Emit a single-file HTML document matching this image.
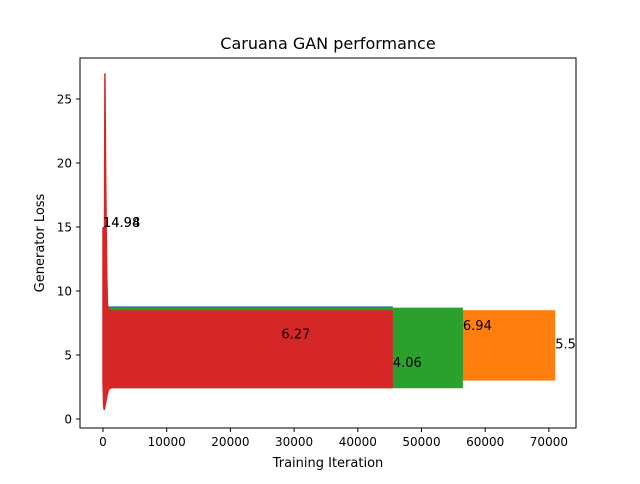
<!DOCTYPE html>
<html><head><meta charset="utf-8"><style>
body{margin:0;background:#fff;font-family:"DejaVu Sans","Liberation Sans",sans-serif;}
svg text{font-family:"DejaVu Sans","Liberation Sans",sans-serif;}
</style></head><body>
<svg id="chart" width="640" height="480" xmlns="http://www.w3.org/2000/svg">
<rect width="640" height="480" fill="#fff"/>
<text x="328" y="49" font-size="16" text-anchor="middle">Caruana GAN performance</text>
<g id="plot"></g>
<rect x="80" y="58" width="496" height="370" fill="none" stroke="#000" stroke-width="1"/>
<g id="axes"></g>
<text x="328" y="467" font-size="13" text-anchor="middle">Training Iteration</text>
<text transform="translate(44,243) rotate(-90)" font-size="13" text-anchor="middle">Generator Loss</text>
</svg>
<script>
const xTicks=[0,10000,20000,30000,40000,50000,60000,70000];
const yTicks=[0,5,10,15,20,25];
const seriesNames=["blue","orange","green","red"];
const seriesColors=["#1f77b4","#ff7f0e","#2ca02c","#d62728"];
const seriesEnd=[45500,71000,56500,45500];
const seriesLow=[2.6,3.0,2.4,2.4];
const seriesHigh=[8.8,8.5,8.7,8.5];
const spikeX=[0,100,200,300,400,500,600,700,800,1000,1200];
const spikeY=[15,12,8,27,20,15,11,9,8.6,8.5,8.5];
const spikeLowY=[3,1,0.7,1,1.2,1.5,1.8,2,2.2,2.4,2.4];
const annX=[0,0,28000,45500,56500,71000];
const annY=[15,15,6.3,4.06,6.94,5.5];
const annText=["14.98","14.94","6.27","4.06","6.94","5.5"];
const sx=v=>103+v*0.00637;
const sy=v=>419-v*12.8;
const NS="http://www.w3.org/2000/svg";
const plot=document.getElementById('plot'),axes=document.getElementById('axes');
function mk(t,a,p){const e=document.createElementNS(NS,t);for(const k in a)e.setAttribute(k,a[k]);p.appendChild(e);return e;}
seriesNames.forEach((n,i)=>{
  const r=mk('rect',{x:sx(0),y:sy(seriesHigh[i]),width:sx(seriesEnd[i])-sx(0),height:sy(seriesLow[i])-sy(seriesHigh[i]),fill:seriesColors[i]},plot);
  
  
});
let d='M'+spikeX.map((x,i)=>sx(x)+','+sy(spikeY[i])).join(' L');
for(let i=spikeX.length-1;i>=0;i--)d+=' L'+sx(spikeX[i])+','+sy(spikeLowY[i]);
const sp=mk('path',{d:d+'Z',fill:'#d62728',stroke:'#d62728','stroke-width':1.5},plot);


annText.forEach((t,i)=>{
  const e=mk('text',{x:sx(annX[i]),y:sy(annY[i]),'font-size':13},plot);e.textContent=t;
  
  
});
xTicks.forEach(v=>{
  const l=mk('line',{x1:sx(v),x2:sx(v),y1:428,y2:432,stroke:'#000'},axes);
  
  
  const t=mk('text',{x:sx(v),y:446,'font-size':12,'text-anchor':'middle'},axes);t.textContent=v;
  
  
});
yTicks.forEach(v=>{
  const l=mk('line',{x1:76,x2:80,y1:sy(v),y2:sy(v),stroke:'#000'},axes);
  
  
  const t=mk('text',{x:72,y:sy(v)+4.5,'font-size':12,'text-anchor':'end'},axes);t.textContent=v;
  
  
});
</script>
</body></html>
